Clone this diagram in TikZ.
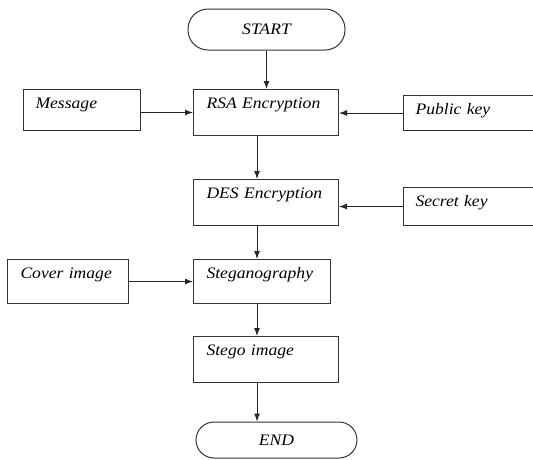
\documentclass[tikz,border=0pt]{standalone}
\usepackage{fontspec}
\setmainfont{Liberation Serif}[FakeStretch=1.1]
\usetikzlibrary{arrows.meta}
\begin{document}
\begin{tikzpicture}[x=1pt, y=-1pt,
    font=\fontsize{16}{19}\selectfont\itshape,
    every node/.style={draw=black!80, line width=1pt, inner ysep=0pt},
    stepbox/.style={anchor=north west, align=left, inner xsep=13pt, text height=19pt},
    flow/.style={draw=black!85, line width=1pt, -{Latex[length=8pt,width=6pt]}}]
    \useasboundingbox (0,0) rectangle (533,459);
    \clip (0,0) rectangle (533,459);
    \coordinate (spine) at (257,0);
    % main column
    \node[rounded corners=20pt, minimum width=157pt, minimum height=41pt] (start) at (266.5,29.5) {START};
    \node[stepbox, text width=119pt, text depth=27pt] (rsa) at (193,89) {RSA Encryption};
    \node[stepbox, text width=119pt, text depth=27pt] (des) at (193,179) {DES Encryption};
    \node[stepbox, text width=111pt, text depth=25pt] (steg) at (193,259) {Steganography};
    \node[stepbox, text width=119pt, text depth=27pt] (stego) at (193,336) {Stego image};
    \node[rounded corners=18pt, minimum width=161pt, minimum height=36pt] (stop) at (276.5,440) {END};
    % inputs
    \node[stepbox, inner xsep=12pt, text width=93pt, text depth=22pt] (msg) at (23,89) {Message};
    \node[stepbox, inner xsep=12pt, text width=150pt, text depth=16pt] (pub) at (403,95) {Public key};
    \node[stepbox, inner xsep=12pt, text width=150pt, text depth=19pt] (sec) at (403,187) {Secret key};
    \node[stepbox, text width=95pt, text depth=25pt] (cov) at (7,259) {Cover image};
    % arrows
    \draw[flow] (start.south) -- (start.south |- rsa.north);
    \draw[flow] (msg.east |- rsa.west) -- (rsa.west);
    \draw[flow] (pub.west) -- (pub.west -| rsa.east);
    \draw[flow] (rsa.south -| spine) -- (des.north -| spine);
    \draw[flow] (sec.west) -- (sec.west -| des.east);
    \draw[flow] (des.south -| spine) -- (steg.north -| spine);
    \draw[flow] (cov.east) -- (cov.east -| steg.west);
    \draw[flow] (steg.south -| spine) -- (stego.north -| spine);
    \draw[flow] (stego.south -| spine) -- (spine |- stop.north);
\end{tikzpicture}
\end{document}
